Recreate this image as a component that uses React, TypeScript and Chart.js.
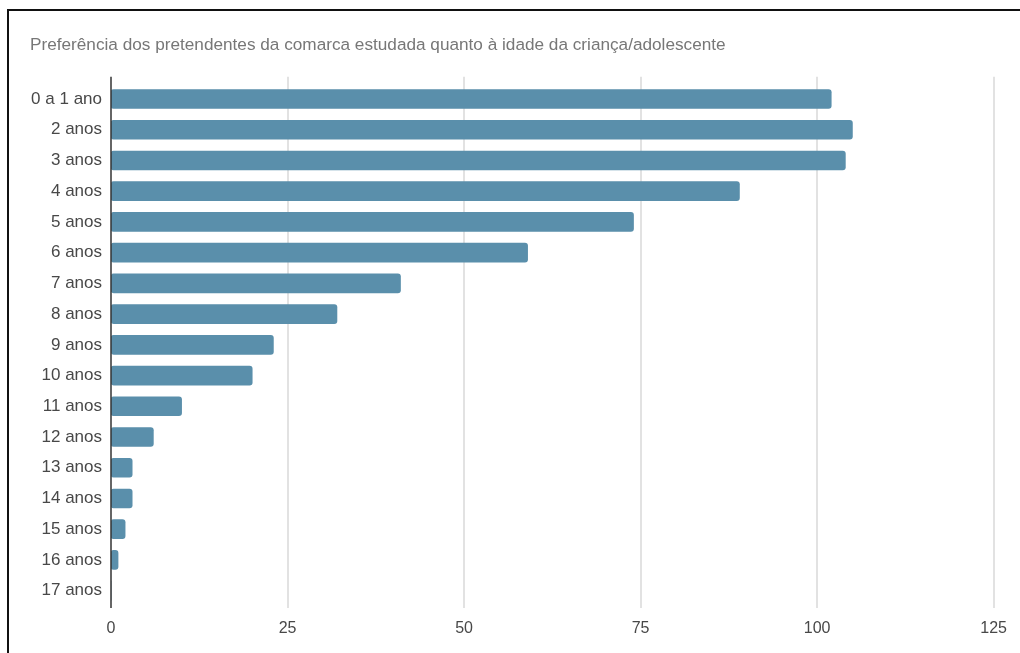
import React, { useEffect, useRef } from "react";
import { Chart, registerables } from "chart.js";

Chart.register(...registerables);

const TITLE = "Preferência dos pretendentes da comarca estudada quanto à idade da criança/adolescente";
const categories = [
  "0 a 1 ano", "2 anos", "3 anos", "4 anos", "5 anos", "6 anos", "7 anos", "8 anos", "9 anos",
  "10 anos", "11 anos", "12 anos", "13 anos", "14 anos", "15 anos", "16 anos", "17 anos",
];
const values = [102, 105, 104, 89, 74, 59, 41, 32, 23, 20, 10, 6, 3, 3, 2, 1, 0];
const xTicks = [0, 25, 50, 75, 100, 125];

const FONT = "Arial, 'Liberation Sans', sans-serif";

const gridPlugin = {
  id: "gridExt",
  beforeDatasetsDraw(chart: any) {
    const xs = chart.scales.x;
    const { top, bottom } = chart.chartArea;
    const ctx = chart.ctx;
    ctx.save();
    ctx.strokeStyle = "#e2e2e2";
    ctx.lineWidth = 2;
    xTicks.forEach((v) => {
      if (v === 0) return;
      const px = Math.round(xs.getPixelForValue(v));
      ctx.beginPath();
      ctx.moveTo(px, top - 7);
      ctx.lineTo(px, bottom + 2);
      ctx.stroke();
    });
    ctx.restore();
  },
  afterDatasetsDraw(chart: any) {
    const xs = chart.scales.x;
    const { top, bottom } = chart.chartArea;
    const ctx = chart.ctx;
    ctx.save();
    ctx.strokeStyle = "#333333";
    ctx.lineWidth = 1.5;
    const px = xs.getPixelForValue(0);
    ctx.beginPath();
    ctx.moveTo(px, top - 7);
    ctx.lineTo(px, bottom + 2);
    ctx.stroke();
    ctx.restore();
  },
};

export default function App() {
  const ref = useRef<HTMLCanvasElement>(null);
  useEffect(() => {
    if (!ref.current) return;
    const chart = new Chart(ref.current, {
      type: "bar",
      data: {
        labels: categories,
        datasets: [
          {
            data: values,
            backgroundColor: "#5a8fab",
            barThickness: 19,
            borderRadius: 3,
            borderSkipped: false,
          },
        ],
      },
      options: {
        indexAxis: "y",
        responsive: false,
        animation: false,
        layout: { padding: { left: 30, right: 15, top: 0, bottom: 0 } },
        plugins: {
          legend: { display: false },
          tooltip: { enabled: false },
          title: {
            display: true,
            text: TITLE,
            align: "start",
            color: "#777777",
            font: { family: FONT, size: 17.2, weight: "normal" },
            padding: { top: 35, bottom: 28 },
          },
        },
        scales: {
          y: {
            type: "category",
            grid: { display: false, drawTicks: false },
            border: { display: false },
            ticks: {
              color: "#484848",
              font: { family: FONT, size: 17 },
              padding: 9,
              autoSkip: false,
            },
            afterFit: (s: any) => {
              s.width = 81;
            },
          },
          x: {
            type: "linear",
            min: 0,
            max: 125,
            grid: { display: false, drawTicks: false },
            border: { display: false },
            ticks: {
              stepSize: 25,
              color: "#484848",
              font: { family: FONT, size: 16 },
              padding: 13,
            },
            afterFit: (s: any) => {
              s.height = 47;
            },
          },
        },
      },
      plugins: [gridPlugin],
    } as any);
    return () => chart.destroy();
  }, []);

  return (
    <div>
      <canvas
        ref={ref}
        width={1020}
        height={653}
        style={{ position: "absolute", left: 0, top: 0, width: 1020, height: 653 }}
      />
      <div
        style={{
          position: "absolute",
          left: 7,
          top: 9,
          width: 1013,
          height: 644,
          boxSizing: "border-box",
          borderTop: "2px solid #111",
          borderLeft: "2px solid #111",
          pointerEvents: "none",
        }}
      />
    </div>
  );
}
